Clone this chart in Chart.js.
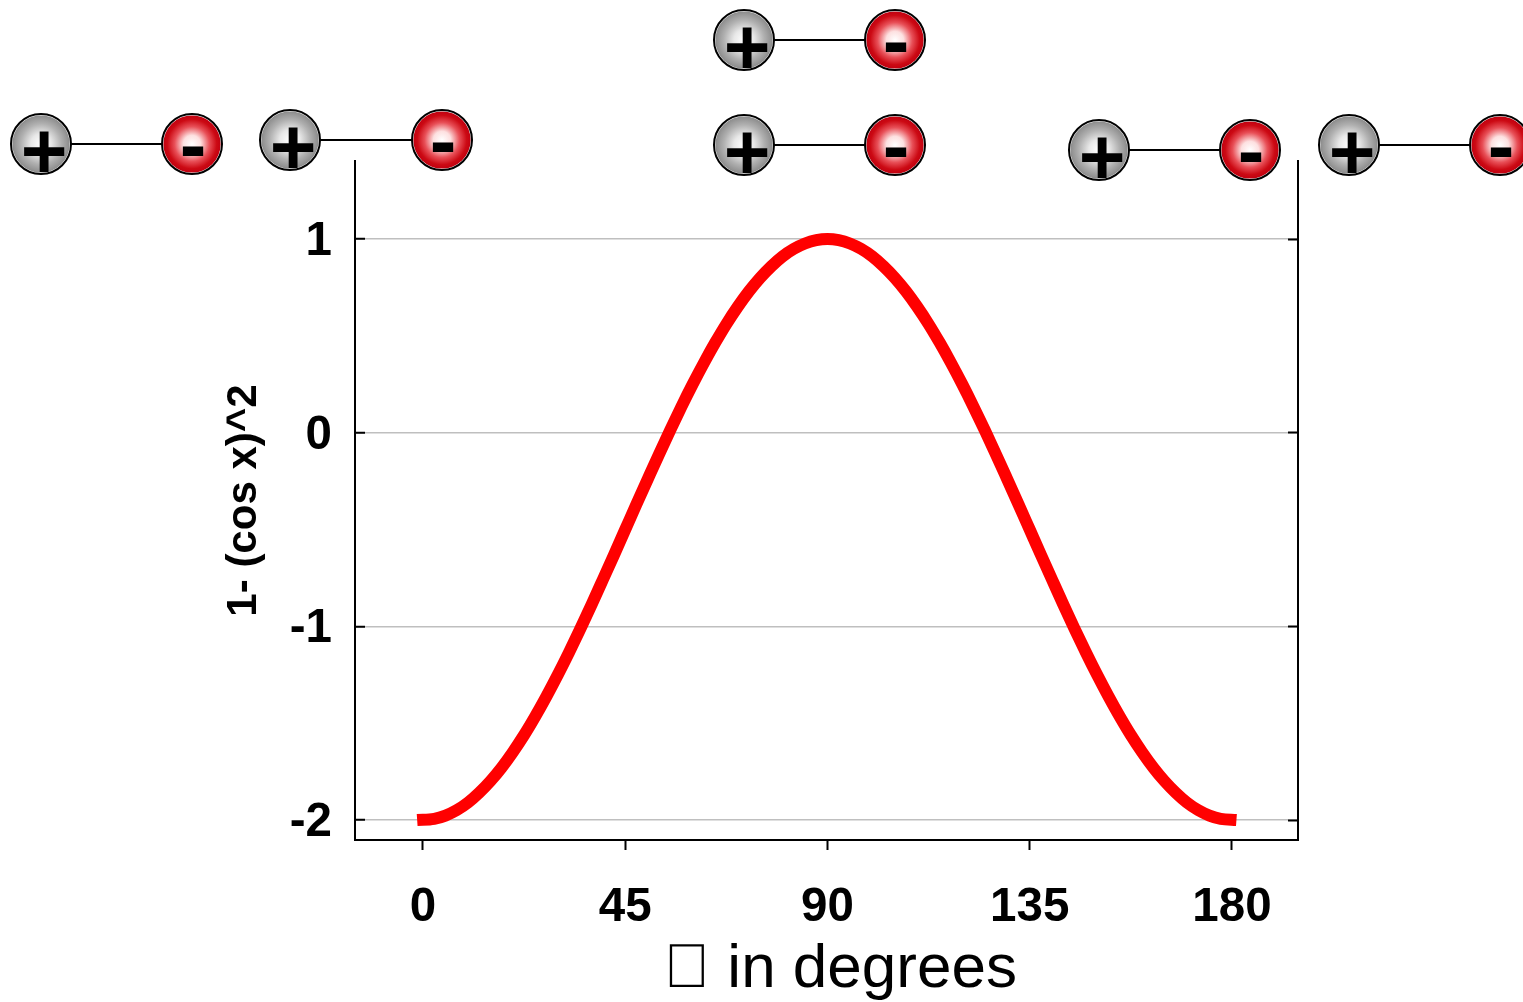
<!DOCTYPE html>
<html>
<head>
<meta charset="utf-8">
<title>1- (cos x)^2</title>
<style>
  html, body { margin: 0; padding: 0; background: #fff; }
  canvas { display: block; }
</style>
<script src="https://cdn.jsdelivr.net/npm/chart.js@4/dist/chart.umd.min.js"></script>
</head>
<body>
<canvas id="myChart" width="1523" height="1002"></canvas>
<script>
var angles = [-1.3, 2.5, 5, 7.5, 10, 12.5, 15, 17.5, 20, 22.5, 25, 27.5, 30, 32.5, 35, 37.5, 40, 42.5, 45,
  47.5, 50, 52.5, 55, 57.5, 60, 62.5, 65, 67.5, 70, 72.5, 75, 77.5, 80, 82.5, 85, 87.5, 90,
  92.5, 95, 97.5, 100, 102.5, 105, 107.5, 110, 112.5, 115, 117.5, 120, 122.5, 125, 127.5, 130, 132.5, 135,
  137.5, 140, 142.5, 145, 147.5, 150, 152.5, 155, 157.5, 160, 162.5, 165, 167.5, 170, 172.5, 175, 177.5, 181];
var values = [-2, -1.994, -1.977, -1.949, -1.91, -1.859, -1.799, -1.729, -1.649, -1.561, -1.464, -1.36, -1.25, -1.134, -1.013, -0.888, -0.76, -0.631, -0.5,
  -0.369, -0.24, -0.112, 0.013, 0.134, 0.25, 0.36, 0.464, 0.561, 0.649, 0.729, 0.799, 0.859, 0.91, 0.949, 0.977, 0.994, 1,
  0.994, 0.977, 0.949, 0.91, 0.859, 0.799, 0.729, 0.649, 0.561, 0.464, 0.36, 0.25, 0.134, 0.013, -0.112, -0.24, -0.369, -0.5,
  -0.631, -0.76, -0.888, -1.013, -1.134, -1.25, -1.36, -1.464, -1.561, -1.649, -1.729, -1.799, -1.859, -1.91, -1.949, -1.977, -1.994, -2];
var xTicks = [0, 45, 90, 135, 180];
var yTicks = [1, 0, -1, -2];

// the little dipole pictures sit outside the plot, so these are page pixels
var plusX = [41, 290, 744, 744, 1099, 1349];
var minusX = [192, 442, 895, 895, 1250, 1500];
var dipoleY = [144, 140, 40, 145, 150, 145];

var FONT = "'Liberation Sans', Arial, sans-serif";

function fixedTicks(list) {
  return function (scale) {
    scale.ticks = list.map(function (v) { return { value: v }; });
  };
}

function ball(ctx, x, y, stops) {
  var g = ctx.createRadialGradient(x, y, 0, x, y, 29);
  stops.forEach(function (s) { g.addColorStop(s[0], s[1]); });
  ctx.beginPath();
  ctx.arc(x, y, 30, 0, Math.PI * 2);
  ctx.fillStyle = "#fff";
  ctx.fill();
  ctx.beginPath();
  ctx.arc(x, y, 28.6, 0, Math.PI * 2);
  ctx.fillStyle = g;
  ctx.fill();
  ctx.beginPath();
  ctx.arc(x, y, 30, 0, Math.PI * 2);
  ctx.lineWidth = 2;
  ctx.strokeStyle = "#000";
  ctx.stroke();
}

var greyStops = [[0, "#ffffff"], [0.35, "#e8e8e8"], [0.7, "#b0b0b0"], [1, "#8a8a8a"]];
var redStops = [[0, "#ffffff"], [0.3, "#fde0e0"], [0.6, "#e85058"], [0.85, "#cc0a14"], [1, "#c00010"]];

var dipoles = {
  id: "dipoles",
  afterDraw: function (chart) {
    var ctx = chart.ctx;
    ctx.save();
    ctx.textAlign = "center";
    ctx.textBaseline = "alphabetic";
    dipoleY.forEach(function (y, i) {
      ctx.beginPath();
      ctx.moveTo(plusX[i] + 30, y);
      ctx.lineTo(minusX[i] - 30, y);
      ctx.lineWidth = 2;
      ctx.strokeStyle = "#000";
      ctx.stroke();
      ball(ctx, plusX[i], y, greyStops);
      ball(ctx, minusX[i], y, redStops);
      ctx.fillStyle = "#000";
      ctx.font = "bold 80px " + FONT;
      ctx.fillText("+", plusX[i] + 3, y + 34);
      ctx.fillText("-", minusX[i] + 1, y + 28);
    });
    ctx.restore();
  }
};

new Chart("myChart", {
  type: "line",
  data: {
    datasets: [
      {
        data: angles.map(function (a, i) { return { x: a, y: values[i] }; }),
        borderColor: "#ff0000",
        borderWidth: 12,
        borderCapStyle: "butt",
        pointRadius: 0,
        cubicInterpolationMode: "monotone",
        clip: false
      }
    ]
  },
  options: {
    responsive: false,
    animation: false,
    layout: { padding: { top: 161, right: 225, left: 0, bottom: 0 } },
    plugins: { legend: { display: false }, tooltip: { enabled: false } },
    scales: {
      x: {
        type: "linear",
        min: -15.13,
        max: 194.7,
        afterBuildTicks: fixedTicks(xTicks),
        afterFit: function (scale) { scale.height = 162; },
        border: { color: "#000", width: 2 },
        grid: { drawOnChartArea: false, tickLength: 10, tickColor: "#000", tickWidth: 2 },
        ticks: {
          color: "#000",
          padding: 29,
          maxRotation: 0,
          autoSkip: false,
          font: { family: FONT, size: 47.5, weight: "bold" }
        },
        title: {
          display: true,
          text: " \u2006\uE000 in degrees",
          color: "#000",
          padding: { top: 0, bottom: 0 },
          font: { family: FONT, size: 62, weight: "normal", lineHeight: 1.03 }
        }
      },
      y: {
        min: -2.103,
        max: 1.403,
        afterBuildTicks: fixedTicks(yTicks),
        afterFit: function (scale) { scale.width = 355; },
        border: { color: "#000", width: 2 },
        grid: { color: "#bfbfbf", lineWidth: 1.5, tickLength: -10, tickColor: "#000", tickWidth: 2 },
        ticks: {
          color: "#000",
          padding: 33,
          labelOffset: 3,
          autoSkip: false,
          font: { family: FONT, size: 47.5, weight: "bold" }
        },
        title: {
          display: true,
          text: "1- (cos x)^2",
          color: "#000",
          padding: { top: 219, bottom: 0 },
          font: { family: FONT, size: 42, weight: "bold" }
        }
      },
      right: {
        position: "right",
        min: -2.103,
        max: 1.403,
        afterBuildTicks: fixedTicks(yTicks),
        afterFit: function (scale) { scale.width = 0; },
        border: { color: "#000", width: 2 },
        grid: { drawOnChartArea: false, tickLength: -10, tickColor: "#000", tickWidth: 2 },
        ticks: { display: false }
      }
    }
  },
  plugins: [dipoles]
});
</script>
</body>
</html>
